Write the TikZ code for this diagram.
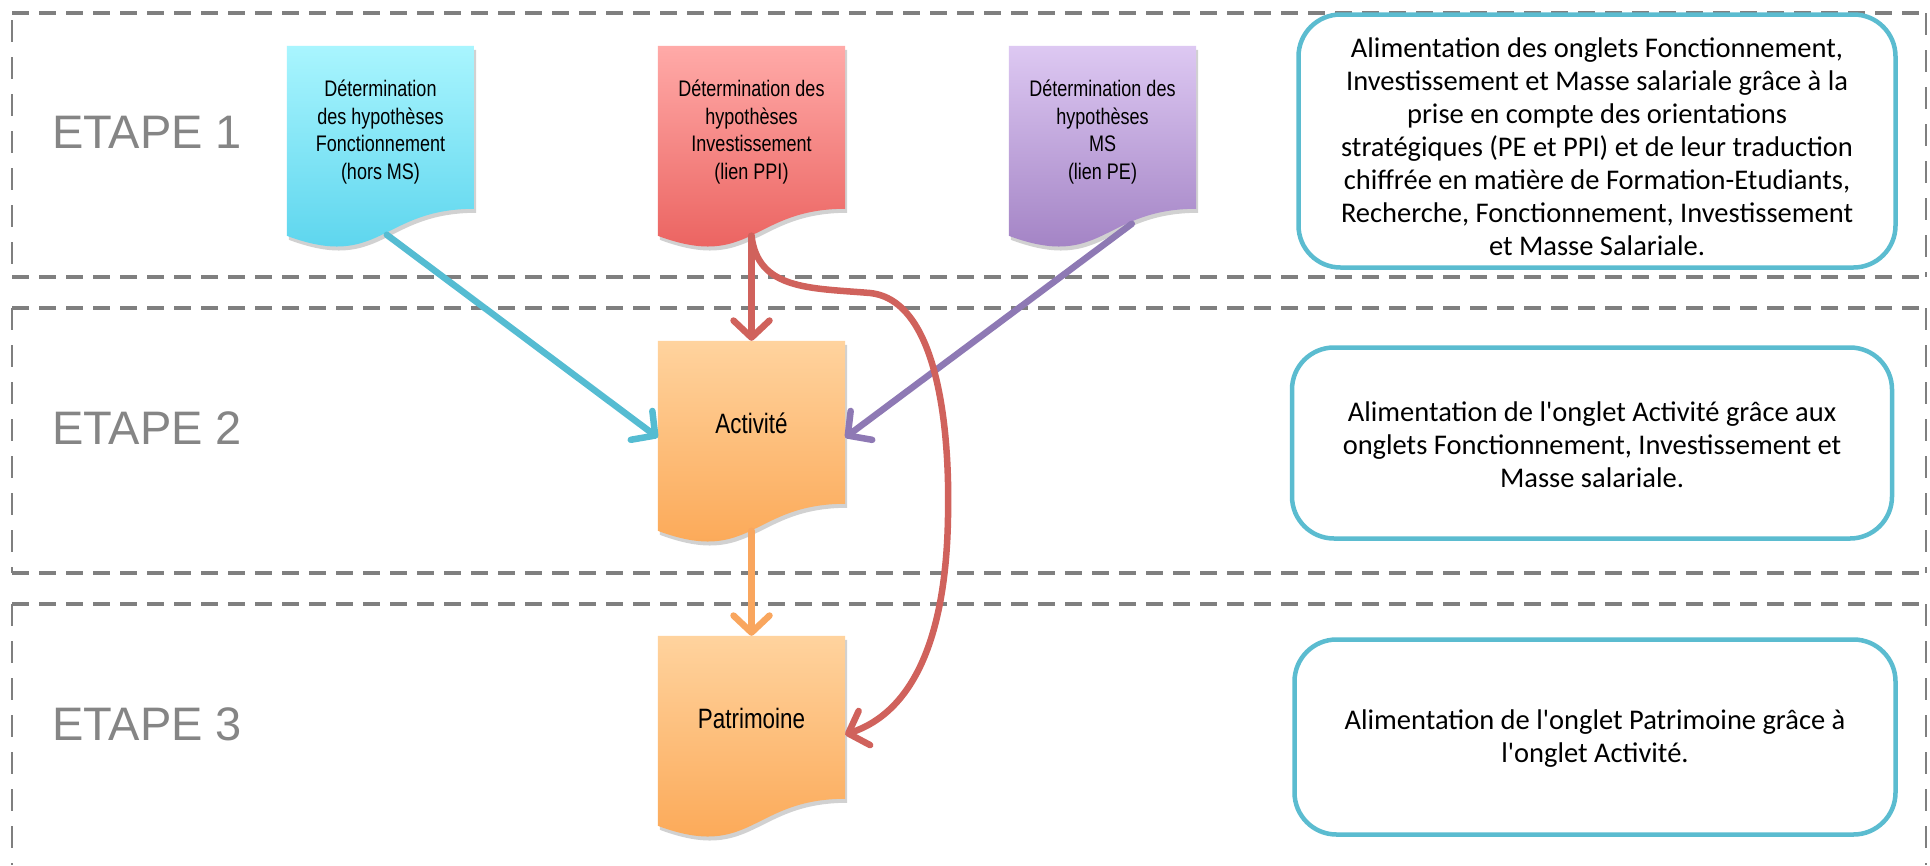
\documentclass[tikz,border=0pt]{standalone}
\usepackage{fontspec}
\setmainfont{Liberation Sans}
\newfontfamily\carlito{Carlito}
\newfontfamily\docfont{Liberation Sans}[FakeStretch=0.8]
\usetikzlibrary{arrows.meta,calc}
\definecolor{framegray}{HTML}{7F7F7F}
\definecolor{etapegray}{HTML}{858585}
\definecolor{cblue}{HTML}{55BCD2}
\definecolor{cred}{HTML}{D0625C}
\definecolor{cpurple}{HTML}{8E79B4}
\definecolor{corange}{HTML}{F9A65E}
\definecolor{boxblue}{HTML}{5BBCD0}
\definecolor{bluetop}{HTML}{A9F5FE}\definecolor{bluebot}{HTML}{55D2EC}
\definecolor{redtop}{HTML}{FFAAA8}\definecolor{redbot}{HTML}{E95C59}
\definecolor{purtop}{HTML}{DDC8F2}\definecolor{purbot}{HTML}{9D7CC0}
\definecolor{ortop}{HTML}{FFD39E}\definecolor{orbot}{HTML}{FBA551}
\newcommand{\docoutline}[1]{(#1.north west) -- (#1.north east) -- ($(#1.north east)+(0,163)$) .. controls ($(#1.north)+(0,163)$) and ($(#1.north)+(0,225)$) .. ($(#1.north west)+(0,190)$) -- cycle}
\newcommand{\docshape}[3]{%
  \path[fill=black, opacity=0.18, transform canvas={shift={(2pt,-4pt)}}] \docoutline{#1};
  \path[top color=#2, bottom color=#3] \docoutline{#1};}
\tikzset{
  docbox/.style={minimum width=187pt, minimum height=203pt, inner sep=0pt, draw=none},
  doctext/.style={font=\docfont\fontsize{22.5}{27.5}\selectfont, align=center, text=black, inner sep=0pt},
  bigdoctext/.style={font=\docfont\fontsize{28}{32}\selectfont, align=center, text=black, inner sep=0pt},
  etape/.style={font=\fontsize{47}{52}\selectfont, text=etapegray, anchor=west, inner sep=0pt},
  infobox/.style={draw=boxblue, line width=4.5pt, rounded corners=42pt, fill=white, inner sep=0pt},
  infotext/.style={align=center, inner sep=0pt, font=\carlito\fontsize{28.5}{33}\selectfont},
  hline/.style={draw=framegray, line width=4pt, dash pattern=on 17pt off 10pt},
  vline/.style={draw=framegray, line width=2pt, dash pattern=on 22pt off 15pt},
  arr/.style={line width=6.5pt, line cap=round, -{Straight Barb[length=17pt,width=36pt,round]}},
}
\begin{document}
\begin{tikzpicture}[x=1pt,y=-1pt]
\useasboundingbox (0,0) rectangle (1930,865);
\fill[white] (0,0) rectangle (1930,865);
% frames
\draw[hline] (12,13) -- (1926,13);
\draw[hline] (12,277) -- (1926,277);
\draw[vline] (12,20) -- (12,277);
\draw[vline] (1926,13) -- (1926,277);
\draw[hline] (12,308) -- (1926,308);
\draw[hline] (12,573) -- (1926,573);
\draw[vline] (12,308) -- (12,573);
\draw[vline] (1926,308) -- (1926,573);
\draw[hline] (12,604) -- (1926,604);
\draw[vline] (12,604) -- (12,865);
\draw[vline] (1926,604) -- (1926,865);
% step labels
\node[etape] (e1) at (52,132) {ETAPE 1};
\node[etape] (e2) at (52,428) {ETAPE 2};
\node[etape] (e3) at (52,724) {ETAPE 3};
% documents
\node[docbox] (fonct) at (380.5,147.5) {};
\node[docbox] (invest) at (751.5,147.5) {};
\node[docbox] (masse) at (1102.5,147.5) {};
\node[docbox] (activ) at (751.5,442.5) {};
\node[docbox] (patri) at (751.5,737.5) {};
\docshape{fonct}{bluetop}{bluebot}
\docshape{invest}{redtop}{redbot}
\docshape{masse}{purtop}{purbot}
\docshape{activ}{ortop}{orbot}
\docshape{patri}{ortop}{orbot}
\node[doctext] (fonct-t) at ($(fonct.north)+(0,86)$) {Détermination\\des hypothèses\\Fonctionnement\\(hors MS)};
\node[doctext] (invest-t) at ($(invest.north)+(0,86)$) {Détermination des\\hypothèses\\Investissement\\(lien PPI)};
\node[doctext] (masse-t) at ($(masse.north)+(0,86)$) {Détermination des\\hypothèses\\MS\\(lien PE)};
\node[bigdoctext] (activ-t) at ($(activ.north)+(0,83)$) {Activité};
\node[bigdoctext] (patri-t) at ($(patri.north)+(0,83)$) {Patrimoine};
% info boxes
\node[infobox, minimum width=597pt, minimum height=253pt] (info1) at (1597,141) {};
\node[infotext] (info1-t) at ($(info1.center)+(0,6)$) {Alimentation des onglets Fonctionnement,\\Investissement et Masse salariale grâce à la\\prise en compte des orientations\\stratégiques (PE et PPI) et de leur traduction\\chiffrée en matière de Formation-Etudiants,\\Recherche, Fonctionnement, Investissement\\et Masse Salariale.};
\node[infobox, minimum width=600pt, minimum height=191pt] (info2) at (1592,443) {};
\node[infotext] (info2-t) at ($(info2.center)+(0,2)$) {Alimentation de l'onglet Activité grâce aux\\onglets Fonctionnement, Investissement et\\Masse salariale.};
\node[infobox, minimum width=601pt, minimum height=195pt] (info3) at (1595,737) {};
\node[infotext] (info3-t) at ($(info3.center)+(0,2)$) {Alimentation de l'onglet Patrimoine grâce à\\l'onglet Activité.};
% connectors
\coordinate (r1) at (870,293);
\coordinate (r2) at (948,517);
\draw[arr, cblue] ($(fonct.north west)+(100,189)$) -- ($(activ.west)+(0,-5)$);
\draw[arr, cred] ($(invest.north)+(0,190)$) -- (activ.north);
\draw[arr, cpurple] ($(masse.north west)+(123,178)$) -- ($(activ.east)+(0,-5)$);
\draw[arr, corange] ($(activ.north)+(0,190)$) -- (patri.north);
\draw[arr, cred] ($(invest.north)+(0,190)$) .. controls (758,290) and (810,288) .. (r1) .. controls (938,300) and (950,430) .. (r2) .. controls (946,640) and (912,712) .. ($(patri.east)+(0,-3)$);
\end{tikzpicture}
\end{document}
